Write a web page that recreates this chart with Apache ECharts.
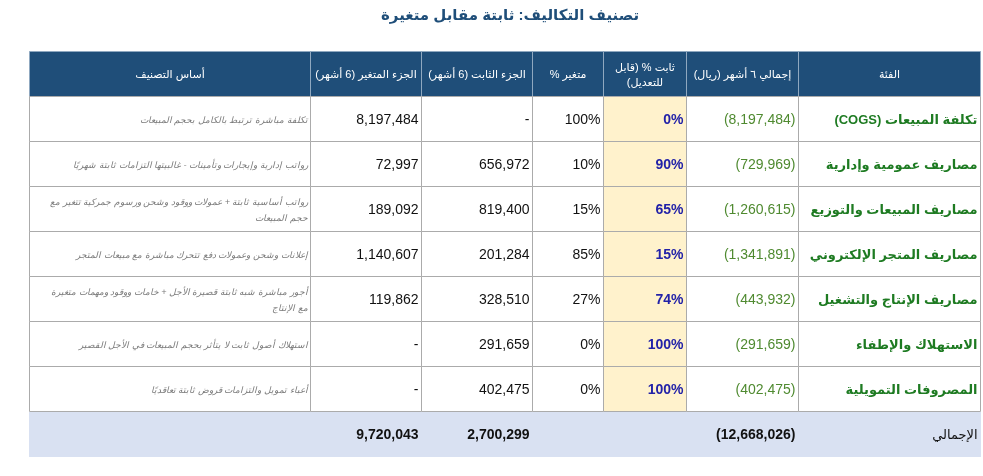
<!DOCTYPE html>
<html><head><meta charset="utf-8">
<script src="https://cdn.jsdelivr.net/npm/echarts@6/dist/echarts.min.js"></script>
<style>html,body{margin:0;padding:0;background:#fff}#c{width:983px;height:476px}</style>
</head><body><div id="c" dir="rtl"></div>
<script>
// ---------- data ----------
const chartTitle = 'تصنيف التكاليف: ثابتة مقابل متغيرة';
// header labels, right-to-left order
const headers = ['الفئة', 'إجمالي ٦ أشهر (ريال)', 'ثابت % (قابل\nللتعديل)', 'متغير %', 'الجزء الثابت (6 أشهر)', 'الجزء المتغير (6 أشهر)', 'أساس التصنيف'];
const categories = ['تكلفة المبيعات (COGS)', 'مصاريف عمومية وإدارية', 'مصاريف المبيعات والتوزيع', 'مصاريف المتجر الإلكتروني', 'مصاريف الإنتاج والتشغيل', 'الاستهلاك والإطفاء', 'المصروفات التمويلية'];
const totals6m = [8197484, 729969, 1260615, 1341891, 443932, 291659, 402475];
const fixedPct = [0, 90, 65, 15, 74, 100, 100];
const variablePct = [100, 10, 15, 85, 27, 0, 0];
const fixedPart = [0, 656972, 819400, 201284, 328510, 291659, 402475];
const variablePart = [8197484, 72997, 189092, 1140607, 119862, 0, 0];
const bases = [
  'تكلفة مباشرة ترتبط بالكامل بحجم المبيعات',
  'رواتب إدارية وإيجارات وتأمينات - غالبيتها التزامات ثابتة شهريًا',
  'رواتب أساسية ثابتة + عمولات ووقود وشحن ورسوم جمركية تتغير مع\nحجم المبيعات',
  'إعلانات وشحن وعمولات دفع تتحرك مباشرة مع مبيعات المتجر',
  'أجور مباشرة شبه ثابتة قصيرة الأجل + خامات ووقود ومهمات متغيرة\nمع الإنتاج',
  'استهلاك أصول ثابت لا يتأثر بحجم المبيعات في الأجل القصير',
  'أعباء تمويل والتزامات قروض ثابتة تعاقديًا'
];
const totalLabel = 'الإجمالي';
const grandTotal = 12668026;
const fixedTotal = 2700299;
const variableTotal = 9720043;

// ---------- layout (styles only) ----------
const colEdges = [0, 281, 392, 503, 574, 657, 769, 951]; // left-to-right column edges in x-axis units
const FONT = "'Liberation Sans', Arial, 'DejaVu Sans', sans-serif";
const BORDER = '#ABABAB';
const styles = {
  head:   { bg: '#1F4E79', border: '#8FA8C0', color: '#FFFFFF', font: 'normal 11px ' + FONT, align: 'center', lh: 15 },
  cat:    { bg: '#FFFFFF', border: BORDER, color: '#1E7B22', font: 'bold 13px ' + FONT, align: 'right' },
  tot:    { bg: '#FFFFFF', border: BORDER, color: '#4F8A30', font: 'normal 14px ' + FONT, align: 'right' },
  fixpct: { bg: '#FFF2CC', border: BORDER, color: '#2222A8', font: 'bold 14px ' + FONT, align: 'right' },
  num:    { bg: '#FFFFFF', border: BORDER, color: '#111111', font: 'normal 14px ' + FONT, align: 'right' },
  basis:  { bg: '#FFFFFF', border: BORDER, color: '#7A7A7A', font: 'italic 9px ' + FONT, align: 'right', lh: 16 },
  sum:    { bg: '#D9E1F2', border: null, color: '#111111', font: 'bold 14px ' + FONT, align: 'right' },
  sumLbl: { bg: '#D9E1F2', border: null, color: '#111111', font: 'normal 13px ' + FONT, align: 'right' }
};

const fmt = v => v.toLocaleString('en-US');
const fmtOrDash = v => (v ? fmt(v) : '-');

// ---------- build cells ----------
const rowLabels = ['header'].concat(categories, [totalLabel]);
const cells = [];
headers.forEach((h, i) => cells.push({ col: 6 - i, row: 0, text: h, kind: 'head' }));
categories.forEach((c, i) => {
  const r = i + 1;
  cells.push({ col: 6, row: r, text: c, kind: 'cat' });
  cells.push({ col: 5, row: r, text: '(' + fmt(totals6m[i]) + ')', kind: 'tot' });
  cells.push({ col: 4, row: r, text: fixedPct[i] + '%', kind: 'fixpct' });
  cells.push({ col: 3, row: r, text: variablePct[i] + '%', kind: 'num' });
  cells.push({ col: 2, row: r, text: fmtOrDash(fixedPart[i]), kind: 'num' });
  cells.push({ col: 1, row: r, text: fmtOrDash(variablePart[i]), kind: 'num' });
  cells.push({ col: 0, row: r, text: bases[i], kind: 'basis' });
});
const sr = rowLabels.length - 1;
cells.push({ col: 6, row: sr, text: totalLabel, kind: 'sumLbl' });
cells.push({ col: 5, row: sr, text: '(' + fmt(grandTotal) + ')', kind: 'sum' });
cells.push({ col: 4, row: sr, text: '', kind: 'sum' });
cells.push({ col: 3, row: sr, text: '', kind: 'sum' });
cells.push({ col: 2, row: sr, text: fmt(fixedTotal), kind: 'sum' });
cells.push({ col: 1, row: sr, text: fmt(variableTotal), kind: 'sum' });
cells.push({ col: 0, row: sr, text: '', kind: 'sum' });

function renderItem(params, api) {
  const cell = cells[params.dataIndex];
  const r = api.value(1);
  const a = api.coord([colEdges[cell.col], r]);
  const b = api.coord([colEdges[cell.col + 1], r]);
  const h = api.size([0, 1])[1];
  const st = styles[cell.kind];
  const x0 = Math.round(a[0]) + 0.5, x1 = Math.round(b[0]) + 0.5;
  const y0 = Math.round(a[1] - h / 2) + 0.5, y1 = Math.round(a[1] + h / 2) + 0.5;
  const children = [];
  if (st.border) {
    children.push({ type: 'rect', shape: { x: x0, y: y0, width: x1 - x0, height: y1 - y0 },
      style: { fill: st.bg, stroke: st.border, lineWidth: 1 } });
  } else {
    children.push({ type: 'rect', shape: { x: x0 - 0.5, y: y0 + 0.5, width: x1 - x0 + 1, height: y1 - y0 },
      style: { fill: st.bg } });
  }
  if (cell.text) {
    let tx;
    if (st.align === 'right') tx = x1 - 3;
    else if (st.align === 'left') tx = x0 + 3;
    else tx = (x0 + x1) / 2;
    children.push({ type: 'text', style: { text: cell.text, x: tx, y: (y0 + y1) / 2 + 1,
      align: st.align, verticalAlign: 'middle', fill: st.color, font: st.font, lineHeight: st.lh || 16 } });
  }
  return { type: 'group', children };
}

const chart = echarts.init(document.getElementById('c'), null, { renderer: 'canvas' });
chart.setOption({
  animation: false,
  backgroundColor: '#FFFFFF',
  title: { text: chartTitle, left: 505, top: 3, textAlign: 'center',
    textStyle: { fontSize: 15, fontWeight: 'bold', color: '#1F4E79', fontFamily: FONT } },
  grid: { left: 29, right: 3, top: 51, bottom: 20 },
  xAxis: { type: 'value', min: 0, max: 951, show: false },
  yAxis: { type: 'category', data: rowLabels, inverse: true, show: false },
  series: [{ type: 'custom', renderItem, clip: false,
    data: cells.map(c => [c.col, c.row]) }]
});
</script></body></html>
